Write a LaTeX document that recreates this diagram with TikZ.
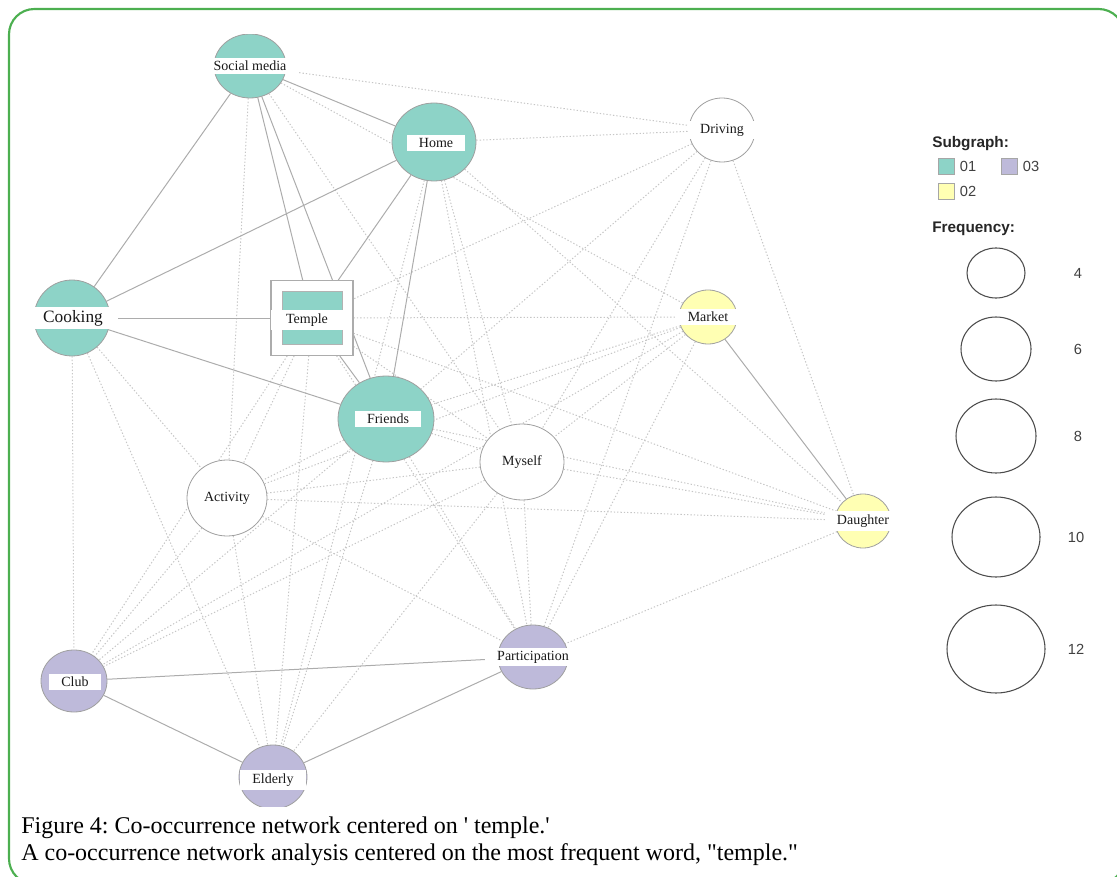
\documentclass[tikz,border=0pt]{standalone}
\usepackage{fontspec}
\setmainfont{Liberation Serif}[Ligatures=TeXOff]
\newfontfamily\legendfont{Liberation Sans}
\usetikzlibrary{shapes.geometric,positioning}
\definecolor{sub01}{HTML}{8DD3C7}
\definecolor{sub02}{HTML}{FFFFB3}
\definecolor{sub03}{HTML}{BEBADA}
\definecolor{framegreen}{HTML}{4CAF50}
\pgfdeclarelayer{edges}
\pgfsetlayers{edges,main}
\frenchspacing

\begin{document}
\begin{tikzpicture}[x=0.75pt,y=-0.75pt,
    rad/.style 2 args={minimum width=#1*1.5pt,minimum height=#2*1.5pt},
    word/.style={ellipse,draw=gray!75,line width=0.6pt,inner sep=0pt},
    wordlabel/.style={fill=white,inner xsep=9pt,inner ysep=2.5pt,text=black!90,font=\fontsize{10.5}{12}\selectfont},
    tie/.style={draw=gray!65,line width=0.75pt},
    weak/.style={draw=gray!45,line width=0.75pt,dash pattern=on 1pt off 1.5pt},
    keybox/.style={draw=gray!70,line width=0.5pt,minimum size=12pt,inner sep=0pt},
    keytext/.style={text=black!75,font=\legendfont\fontsize{11}{13}\selectfont,inner sep=1pt},
    keytitle/.style={anchor=base west,inner sep=0pt,text=black!85,font=\legendfont\bfseries\fontsize{11.5}{13}\selectfont},
    freqkey/.style={ellipse,draw=black!70,line width=0.8pt,inner sep=0pt}]

\useasboundingbox (0,0) rectangle (1117,877);
\draw[framegreen,line width=1.6pt,rounded corners=19pt] (9,9) rectangle (1124,884);

% words of the network
\begin{scope}
  \clip (0,35) rectangle (1117,806);
  \node[word,fill=sub01,rad={36}{32}] (sm) at (250,66) {};
  \node[word,fill=sub01,rad={42}{39}] (home) at (434,142) {};
  \node[word,fill=white,rad={33}{32}] (driving) at (722,130) {};
  \node[word,fill=sub01,rad={38}{38}] (cooking) at (72,318) {};
  \node[draw=gray!65,line width=0.8pt,fill=white,minimum width=61.5pt,minimum height=56pt] (temple) at (312,318) {};
  \node[draw=gray!60,fill=sub01,minimum width=45pt,minimum height=40pt] (temple-in) at (312,318) {};
  \node[word,fill=sub02,rad={29}{27}] (market) at (708,317) {};
  \node[word,fill=sub01,rad={48}{43}] (friends) at (386,419) {};
  \node[word,fill=white,rad={42}{38}] (myself) at (522,462) {};
  \node[word,fill=white,rad={40}{38}] (activity) at (227,498) {};
  \node[word,fill=sub02,rad={28}{27}] (daughter) at (863,521) {};
  \node[word,fill=sub03,rad={33}{31}] (club) at (74,681) {};
  \node[word,fill=sub03,rad={35}{32}] (participation) at (533,657) {};
  \node[word,fill=sub03,rad={34}{32}] (elderly) at (273,777) {};

  \node[wordlabel] (sm-l) at (sm) {Social media};
  \node[wordlabel] (home-l) at (436,143) {Home};
  \node[wordlabel] (driving-l) at (driving) {Driving};
  \node[wordlabel,font=\fontsize{13}{15}\selectfont,inner xsep=11pt] (cooking-l) at (73,318) {Cooking};
  \node[wordlabel,inner xsep=11pt] (temple-l) at (307,320) {Temple};
  \node[wordlabel] (market-l) at (market) {Market};
  \node[wordlabel] (friends-l) at (388,419) {Friends};
  \node[wordlabel] (myself-l) at (myself) {Myself};
  \node[wordlabel] (activity-l) at (activity) {Activity};
  \node[wordlabel] (daughter-l) at (daughter) {Daughter};
  \node[wordlabel] (club-l) at (75,682) {Club};
  \node[wordlabel] (participation-l) at (participation) {Participation};
  \node[wordlabel] (elderly-l) at (273,780) {Elderly};
\end{scope}

% co-occurrences
\begin{pgfonlayer}{edges}
\path[weak]
  (sm) edge (driving)
  (sm) edge (activity)
  (sm) edge (market)
  (sm) edge (myself)
  (home) edge (driving)
  (home) edge (myself)
  (home) edge (participation)
  (home) edge (elderly)
  (home) edge (daughter)
  (driving) edge (temple)
  (driving) edge (friends)
  (driving) edge (myself)
  (driving) edge (participation)
  (driving) edge (daughter)
  (cooking) edge (activity)
  (cooking) edge (club)
  (cooking) edge (elderly)
  (temple) edge (market)
  (temple) edge (myself)
  (temple) edge (daughter)
  (temple) edge (activity)
  (temple) edge (club)
  (temple) edge (elderly)
  (temple) edge (participation)
  (market) edge (friends)
  (market) edge (myself)
  (market) edge (activity)
  (market) edge (club)
  (market) edge (participation)
  (friends) edge (myself)
  (friends) edge (daughter)
  (friends) edge (activity)
  (friends) edge (club)
  (friends) edge (elderly)
  (friends) edge (participation)
  (myself) edge (daughter)
  (myself) edge (activity)
  (myself) edge (participation)
  (myself) edge (elderly)
  (myself) edge (club)
  (activity) edge (daughter)
  (activity) edge (participation)
  (activity) edge (club)
  (activity) edge (elderly)
  (daughter) edge (participation);
\path[tie]
  (sm) edge (cooking)
  (sm) edge (home)
  (sm) edge (temple)
  (sm) edge (friends)
  (home) edge (cooking)
  (home) edge (temple)
  (home) edge (friends)
  (cooking) edge (temple)
  (cooking) edge (friends)
  (temple) edge (friends)
  (market) edge (daughter)
  (club) edge (participation)
  (club) edge (elderly)
  (elderly) edge (participation);
\end{pgfonlayer}

% legend
\node[keytitle] (subgraph) at (932,148) {Subgraph:};
\node[keybox,fill=sub01] (k01) at (946,166) {};
\node[keytext,right=3pt of k01] (k01-t) {01};
\node[keybox,fill=sub03] (k03) at (1009,166) {};
\node[keytext,right=3pt of k03] (k03-t) {03};
\node[keybox,fill=sub02] (k02) at (946,191) {};
\node[keytext,right=3pt of k02] (k02-t) {02};
\node[keytitle] (frequency) at (932,233) {Frequency:};
\node[freqkey,rad={29}{25}] (f4) at (996,273) {};
\node[freqkey,rad={35}{32}] (f6) at (996,349) {};
\node[freqkey,rad={40}{37}] (f8) at (996,436) {};
\node[freqkey,rad={44}{40}] (f10) at (996,537) {};
\node[freqkey,rad={49}{44}] (f12) at (996,649) {};
\node[keytext] (f4-t) at (1078,273) {4};
\node[keytext] (f6-t) at (1078,349) {6};
\node[keytext] (f8-t) at (1078,436) {8};
\node[keytext] (f10-t) at (1076,537) {10};
\node[keytext] (f12-t) at (1076,649) {12};

% caption
\node[anchor=base west,inner sep=0pt,font=\fontsize{18}{20}\selectfont] (caption1) at (21,833) {Figure 4: Co-occurrence network centered on ' temple.'};
\node[anchor=base west,inner sep=0pt,font=\fontsize{18}{20}\selectfont] (caption2) at (21,860) {A co-occurrence network analysis centered on the most frequent word, "temple."};
\end{tikzpicture}
\end{document}
